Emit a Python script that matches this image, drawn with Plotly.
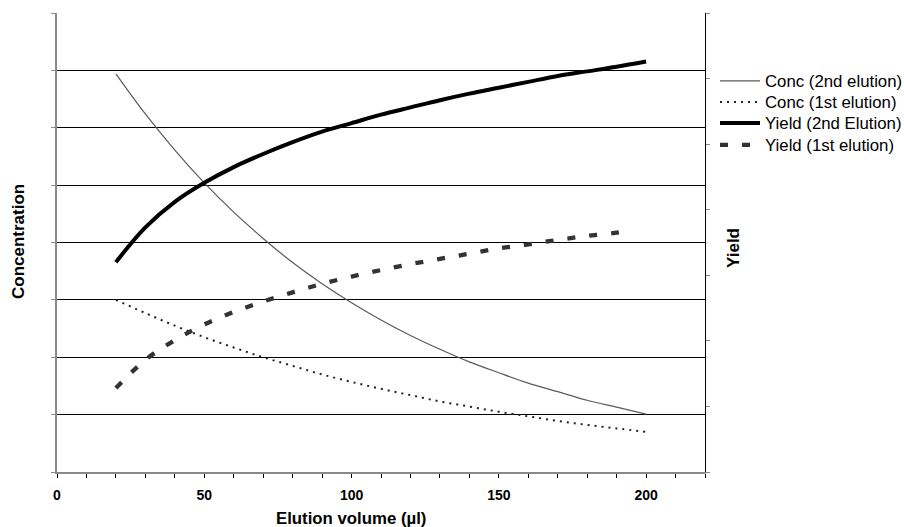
import plotly.graph_objects as go

# ---- data (arbitrary units, axes unlabelled) ----
volume = [20, 30, 40, 50, 60, 70, 80, 90, 100, 110, 120, 130, 140, 150, 160, 170, 180, 190, 200]
conc_2nd = [6.94, 6.24, 5.61, 5.04, 4.53, 4.07, 3.65, 3.28, 2.95, 2.65, 2.38, 2.14, 1.92, 1.73, 1.55, 1.40, 1.25, 1.13, 1.01]
conc_1st = [3.00, 2.77, 2.55, 2.35, 2.17, 2.00, 1.85, 1.70, 1.57, 1.45, 1.34, 1.23, 1.14, 1.05, 0.97, 0.89, 0.82, 0.76, 0.70]
yield_2nd = [3.20, 3.73, 4.12, 4.41, 4.65, 4.85, 5.03, 5.19, 5.32, 5.45, 5.56, 5.67, 5.77, 5.86, 5.95, 6.04, 6.11, 6.18, 6.26]
volume_y1 = [20, 30, 40, 50, 60, 70, 80, 90, 100, 110, 120, 130, 140, 150, 160, 170, 180, 190, 195]
yield_1st = [1.28, 1.71, 2.01, 2.25, 2.44, 2.60, 2.74, 2.87, 2.98, 3.08, 3.17, 3.25, 3.33, 3.41, 3.47, 3.54, 3.60, 3.65, 3.68]

x_tick_vals = list(range(0, 221, 10))
x_tick_text = [str(v) if v % 50 == 0 else "" for v in x_tick_vals]

series_names = ["Conc (2nd elution)", "Conc (1st elution)", "Yield (2nd Elution)", "Yield (1st elution)"]

FONT = "Liberation Sans, Arial, sans-serif"

# plot-area geometry in pixels
L, R, T, B = 57, 705, 13, 472
PW, PH = R - L, B - T


def px_x(px):
    return (px - L) / PW


def px_y(py):
    return (B - py) / PH


fig = go.Figure()
fig.add_trace(go.Scatter(x=volume, y=conc_2nd, mode="lines", name=series_names[0],
                         line=dict(color="#5a5a5a", width=1.2, shape="spline", smoothing=1),
                         yaxis="y", legend="legend"))
fig.add_trace(go.Scatter(x=volume, y=conc_1st, mode="lines", name=series_names[1],
                         line=dict(color="#222222", width=2, dash="2px,5px", shape="spline", smoothing=1),
                         yaxis="y", legend="legend2"))
fig.add_trace(go.Scatter(x=volume, y=yield_2nd, mode="lines", name=series_names[2],
                         line=dict(color="#000000", width=4, shape="spline", smoothing=1),
                         yaxis="y2", legend="legend3"))
fig.add_trace(go.Scatter(x=volume_y1, y=yield_1st, mode="lines", name=series_names[3],
                         line=dict(color="#333333", width=4.3, dash="8px,14px", shape="spline", smoothing=1),
                         yaxis="y2", legend="legend4"))

legend_rows = [81, 102, 123, 145]
legend_common = dict(x=px_x(715), xanchor="left", yanchor="middle",
                     font=dict(size=16.8, family=FONT, color="black"),
                     itemwidth=40, bgcolor="rgba(0,0,0,0)", borderwidth=0)

fig.update_layout(
    width=904, height=527,
    margin=dict(l=L, r=904 - R, t=T, b=527 - B, autoexpand=False),
    paper_bgcolor="white", plot_bgcolor="white",
    font=dict(family=FONT, color="black"),
    showlegend=True,
    legend=dict(y=px_y(legend_rows[0]), **legend_common),
    legend2=dict(y=px_y(legend_rows[1]), **legend_common),
    legend3=dict(y=px_y(legend_rows[2]), **legend_common),
    legend4=dict(y=px_y(legend_rows[3]), **legend_common),
    xaxis=dict(range=[0, 220], tickmode="array", tickvals=x_tick_vals, ticktext=x_tick_text,
               ticks="outside", ticklen=4, tickcolor="black", tickwidth=1,
               showline=True, linecolor="#8a8a8a", linewidth=2,
               showgrid=False, zeroline=False,
               tickfont=dict(size=14, family=FONT, color="black", weight="bold"),
               ticklabelstandoff=5),
    yaxis=dict(range=[0, 8], dtick=1, tick0=0, showticklabels=False,
               ticks="outside", ticklen=4, tickcolor="#8a8a8a",
               showline=True, linecolor="#8a8a8a", linewidth=2,
               showgrid=True, gridcolor="black", gridwidth=1, zeroline=False),
    yaxis2=dict(range=[0, 7], dtick=1, tick0=0, showticklabels=False,
                overlaying="y", side="right",
                ticks="outside", ticklen=4, tickcolor="#8a8a8a",
                showline=True, linecolor="black", linewidth=1,
                showgrid=False, zeroline=False),
    annotations=[
        dict(text="<b>Elution volume (µl)</b>", xref="paper", yref="paper",
             x=px_x(351), y=px_y(518), xanchor="center", yanchor="middle",
             showarrow=False, font=dict(size=16.8, family=FONT, color="black")),
        dict(text="<b>Concentration</b>", xref="paper", yref="paper",
             x=px_x(18), y=px_y(242), xanchor="center", yanchor="middle",
             textangle=-90, showarrow=False, font=dict(size=17, family=FONT, color="black")),
        dict(text="<b>Yield</b>", xref="paper", yref="paper",
             x=px_x(733), y=px_y(248), xanchor="center", yanchor="middle",
             textangle=-90, showarrow=False, font=dict(size=17, family=FONT, color="black")),
    ],
)

fig.write_html("out.html", config={"displayModeBar": False},
               post_script="document.body.style.margin='0';document.body.style.overflow='hidden';")
